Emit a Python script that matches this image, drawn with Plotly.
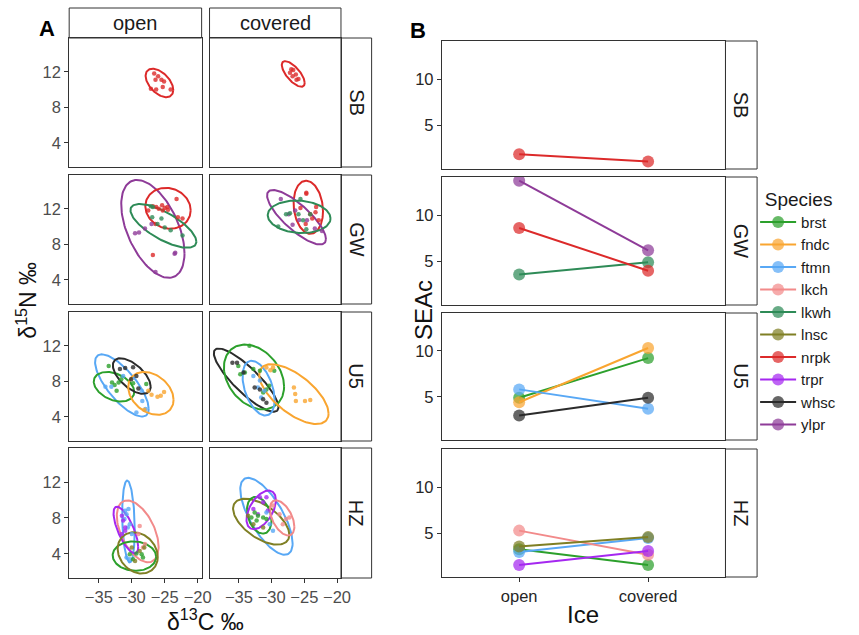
import numpy as np
import plotly.graph_objects as go

W, H = 859, 635

LOCS = ["SB", "GW", "U5", "HZ"]
ICE = ["open", "covered"]
SPECIES = ["brst", "fndc", "ftmn", "lkch", "lkwh", "lnsc", "nrpk", "trpr", "whsc", "ylpr"]
COLORS = {
    "brst": "#2ca02c", "fndc": "#F9A530", "ftmn": "#58A8F5", "lkch": "#F28A8A",
    "lkwh": "#2E8B57", "lnsc": "#7F7F24", "nrpk": "#DC2A2A", "trpr": "#A528F0",
    "whsc": "#2b2b2b", "ylpr": "#8E3B98",
}
A_XTICKS = [-35, -30, -25, -20]
A_YTICKS = [4, 8, 12]
B_YTICKS = [5, 10]

# Panel A: standard ellipses (location, ice, species, centre x, centre y, half-width x, half-height y, correlation)
ELLIPSES = [
    ("SB", "open", "nrpk", -25.8, 10.75, 2.1, 1.6, -0.5),
    ("SB", "covered", "nrpk", -26.7, 11.76, 1.75, 1.44, -0.7),
    ("GW", "open", "ylpr", -26.8, 9.74, 4.8, 5.5, -0.5),
    ("GW", "open", "nrpk", -24.5, 12.06, 3.44, 2.3, -0.1),
    ("GW", "open", "lkwh", -25.2, 10.08, 5.0, 2.46, -0.72),
    ("GW", "covered", "nrpk", -24.4, 12.17, 2.25, 2.99, -0.15),
    ("GW", "covered", "ylpr", -26.2, 11.05, 4.5, 3.06, -0.8),
    ("GW", "covered", "lkwh", -25.8, 11.1, 4.8, 1.83, -0.1),
    ("U5", "open", "ftmn", -31.5, 7.54, 4.07, 3.5, -0.75),
    ("U5", "open", "brst", -32.7, 7.4, 3.07, 1.66, -0.35),
    ("U5", "open", "whsc", -30.0, 8.6, 2.87, 2.0, -0.6),
    ("U5", "open", "fndc", -27.1, 6.65, 3.44, 2.41, -0.3),
    ("U5", "covered", "whsc", -33.9, 8.14, 4.94, 3.56, -0.85),
    ("U5", "covered", "brst", -32.7, 8.5, 4.6, 3.64, -0.3),
    ("U5", "covered", "ftmn", -32.0, 7.24, 2.45, 3.08, -0.43),
    ("U5", "covered", "fndc", -26.6, 6.57, 5.3, 3.36, -0.65),
    ("HZ", "open", "ftmn", -30.5, 7.6, 0.95, 4.57, -0.2),
    ("HZ", "open", "lkch", -29.1, 6.5, 3.17, 3.45, -0.5),
    ("HZ", "open", "trpr", -30.9, 6.65, 1.87, 2.61, -0.72),
    ("HZ", "open", "brst", -29.6, 3.74, 3.3, 1.64, -0.05),
    ("HZ", "open", "lnsc", -29.1, 4.1, 3.04, 2.3, -0.2),
    ("HZ", "covered", "ftmn", -30.8, 8.18, 4.0, 4.29, -0.7),
    ("HZ", "covered", "lnsc", -31.6, 7.58, 4.3, 2.56, -0.57),
    ("HZ", "covered", "brst", -31.9, 8.3, 1.87, 2.05, -0.3),
    ("HZ", "covered", "trpr", -31.6, 8.9, 2.25, 2.15, 0.5),
    ("HZ", "covered", "lkch", -28.4, 8.0, 1.87, 1.96, -0.5),
]

# Panel A: individual isotope values (d13C list, d15N list)
POINTS = {
    ("SB", "open", "nrpk"): ([-26.6, -26.0, -25.5, -25.1, -26.4, -25.3, -26.3, -24.1, -27.1],
                             [11.8, 11.5, 11.1, 10.9, 11.1, 10.3, 10.0, 10.0, 10.1]),
    ("SB", "covered", "nrpk"): ([-27.0, -26.7, -26.3, -25.9, -27.2, -26.8, -26.2],
                                [12.3, 12.2, 11.7, 11.2, 11.9, 11.5, 11.1]),
    ("GW", "open", "nrpk"): ([-26.8, -26.3, -25.4, -25.0, -24.6, -24.5, -23.2, -23.0, -22.3, -27.5, -26.4, -26.8, -25.3, -25.9],
                             [12.3, 12.2, 12.4, 12.1, 12.2, 11.9, 13.1, 11.05, 10.9, 11.8, 10.3, 6.8, 11.8, 12.0]),
    ("GW", "open", "ylpr"): ([-29.5, -28.9, -28.0, -26.4, -23.5, -23.4, -27.0],
                             [9.26, 9.33, 9.8, 4.9, 6.94, 7.06, 10.3]),
    ("GW", "open", "lkwh"): ([-27.1, -26.9, -25.5, -26.1, -25.0, -24.1, -22.3, -26.8],
                             [12.3, 11.05, 10.9, 10.3, 9.9, 9.6, 9.0, 12.2]),
    ("GW", "covered", "nrpk"): ([-24.7, -24.7, -23.2, -23.3, -24.1, -23.8, -25.6, -24.8, -22.8],
                                [13.8, 13.7, 12.2, 11.6, 11.4, 10.9, 12.1, 10.3, 10.7]),
    ("GW", "covered", "ylpr"): ([-28.6, -26.4, -26.8, -25.8, -24.6, -22.3, -23.4, -27.4],
                                [13.1, 11.8, 10.2, 10.75, 10.7, 9.5, 9.8, 11.4]),
    ("GW", "covered", "lkwh"): ([-29.0, -27.8, -27.2, -25.9, -25.6, -25.2, -24.7, -24.1],
                                [10.0, 11.4, 11.5, 11.4, 13.1, 10.7, 9.7, 11.4]),
    ("U5", "open", "brst"): ([-33.5, -33.0, -32.0, -32.3, -32.6, -31.6, -29.8, -27.8],
                             [9.74, 7.88, 7.88, 6.94, 7.6, 8.25, 7.8, 7.7]),
    ("U5", "open", "ftmn"): ([-34.0, -31.3, -28.5, -28.4, -29.3, -27.9, -33.1],
                             [7.4, 8.6, 6.94, 5.8, 4.5, 4.9, 7.4]),
    ("U5", "open", "whsc"): ([-31.8, -31.0, -29.8, -29.3, -29.0, -30.1],
                             [9.4, 9.5, 9.6, 8.6, 7.2, 8.25]),
    ("U5", "open", "fndc"): ([-27.5, -26.1, -25.6, -25.1, -27.0, -28.1],
                             [6.94, 6.27, 6.4, 6.8, 6.5, 4.8]),
    ("U5", "covered", "brst"): ([-33.4, -35.1, -34.1, -32.8, -31.8, -30.8, -30.4, -31.3, -34.8, -29.6],
                                [12.0, 9.74, 9.0, 9.4, 9.2, 7.1, 7.5, 6.76, 8.8, 9.2]),
    ("U5", "covered", "ftmn"): ([-32.8, -31.8, -31.6, -31.1, -32.1],
                                [8.6, 8.1, 6.2, 6.94, 7.3]),
    ("U5", "covered", "whsc"): ([-36.0, -35.3, -34.3, -32.6, -31.8, -31.3, -30.8],
                                [10.1, 10.1, 9.0, 7.3, 7.1, 6.0, 5.6]),
    ("U5", "covered", "fndc"): ([-30.8, -29.8, -30.2, -26.6, -26.4, -26.3, -24.9, -24.1],
                                [9.56, 9.56, 9.26, 7.3, 6.57, 5.8, 5.8, 5.9]),
    ("HZ", "open", "ftmn"): ([-31.0, -30.8, -30.5, -30.3, -30.6, -30.0, -30.8, -30.3, -31.1],
                             [8.8, 8.4, 9.0, 7.3, 6.94, 6.2, 3.6, 3.4, 7.88]),
    ("HZ", "open", "trpr"): ([-31.5, -31.3, -31.0, -31.5, -31.0],
                             [8.25, 7.7, 6.94, 6.2, 6.57]),
    ("HZ", "open", "lkch"): ([-28.8, -29.0, -28.0, -28.3],
                             [7.1, 6.2, 5.08, 4.7]),
    ("HZ", "open", "brst"): ([-30.3, -29.3, -28.5, -28.3, -29.8],
                             [3.96, 4.03, 3.96, 3.6, 3.4]),
    ("HZ", "open", "lnsc"): ([-30.0, -28.1, -28.8, -29.5],
                             [4.7, 4.7, 4.3, 3.2]),
    ("HZ", "covered", "trpr"): ([-31.8, -30.8, -31.3, -32.1, -32.8, -30.6],
                                [10.3, 10.3, 9.74, 8.4, 9.0, 8.8]),
    ("HZ", "covered", "brst"): ([-32.6, -32.1, -31.3, -30.8, -32.3, -33.1],
                                [8.6, 8.25, 8.06, 7.88, 7.7, 8.06]),
    ("HZ", "covered", "lkch"): ([-29.8, -28.8, -27.8, -27.3, -28.3],
                                [9.4, 8.4, 7.88, 8.06, 7.3]),
    ("HZ", "covered", "lnsc"): ([-33.6, -32.8, -31.3],
                                [8.25, 7.3, 6.94]),
    ("HZ", "covered", "ftmn"): ([-30.8, -30.3, -29.8],
                                [8.6, 7.3, 6.57]),
}

# Panel B: SEAc values [open, covered]
SEAC = {
    "SB": {"nrpk": [1.9, 1.1]},
    "GW": {"lkwh": [3.6, 4.9], "nrpk": [8.6, 4.0], "ylpr": [13.7, 6.2]},
    "U5": {"brst": [4.9, 9.2], "fndc": [4.4, 10.3], "ftmn": [5.8, 3.7], "whsc": [2.95, 4.9]},
    "HZ": {"brst": [3.3, 1.6], "ftmn": [3.0, 4.5], "lkch": [5.3, 2.7], "lnsc": [3.6, 4.6], "trpr": [1.6, 3.1]},
}

# ---------------- layout geometry (pixels) ----------------
A_COLS = [(70, 204), (212, 345)]
A_ROWS = [(38, 167), (175, 304), (312, 441), (448, 578)]
A_TOPSTRIP = (8, 38)
A_RSTRIP = (345, 376)
B_COL = (447, 734)
B_ROWS = [(41, 169), (177, 305), (313, 440), (449, 577)]
B_RSTRIP = (734, 766)


def fx(px):
    return px / W


def fy(py):
    return 1 - py / H


FONT = "Liberation Sans, Arial, sans-serif"
A_TICKFONT = dict(family=FONT, size=16.5, color="#4d4d4d")
B_TICKFONT = dict(family=FONT, size=16.5, color="#262626")
BORDER = "#333333"

fig = go.Figure()
layout = {}
ax_id = 0


def new_axes(xdom, ydom, xrange, yrange, show_x, show_y, xtickvals, ytickvals, tickfont, xticktext=None):
    global ax_id
    ax_id += 1
    sfx = "" if ax_id == 1 else str(ax_id)
    common = dict(showline=True, mirror=True, linecolor=BORDER, linewidth=1, showgrid=False,
                  zeroline=False, ticklen=4, tickcolor="#333333",
                  tickfont=tickfont, fixedrange=True)
    xa = dict(common, domain=[fx(xdom[0]), fx(xdom[1])], range=xrange, anchor="y" + sfx,
              tickvals=xtickvals, showticklabels=show_x, ticks="outside" if show_x else "")
    if xticktext is not None:
        xa["ticktext"] = xticktext
    ya = dict(common, domain=[fy(ydom[1]), fy(ydom[0])], range=yrange, anchor="x" + sfx,
              tickvals=ytickvals, showticklabels=show_y, ticks="outside" if show_y else "")
    layout["xaxis" + sfx] = xa
    layout["yaxis" + sfx] = ya
    return "x" + sfx, "y" + sfx


# ---------------- Panel A ----------------
A_XR = [-39.5, -19.4]
A_YR = [1.3, 15.8]
t = np.linspace(0, 2 * np.pi, 120)
for ri, loc in enumerate(LOCS):
    for ci, ice in enumerate(ICE):
        xr, yr = new_axes(A_COLS[ci], A_ROWS[ri], A_XR, A_YR, ri == 3, ci == 0, A_XTICKS, A_YTICKS, A_TICKFONT)
        for (l, ic, sp, cx, cy, sx, sy, r) in ELLIPSES:
            if l == loc and ic == ice:
                ex = cx + sx * np.cos(t)
                ey = cy + sy * (r * np.cos(t) + np.sqrt(1 - r * r) * np.sin(t))
                fig.add_trace(go.Scatter(x=ex, y=ey, mode="lines", line=dict(color=COLORS[sp], width=2),
                                         xaxis=xr, yaxis=yr, showlegend=False, hoverinfo="skip"))
        for (l, ic, sp), (px, py) in POINTS.items():
            if l == loc and ic == ice:
                fig.add_trace(go.Scatter(x=px, y=py, mode="markers",
                                         marker=dict(color=COLORS[sp], size=4.5, opacity=0.8),
                                         xaxis=xr, yaxis=yr, showlegend=False))

# ---------------- Panel B ----------------
B_XR = [0.4, 2.6]
B_YR = [0.3, 14.1]
seen = set()
for ri, loc in enumerate(LOCS):
    xr, yr = new_axes(B_COL, B_ROWS[ri], B_XR, B_YR, ri == 3, True, [1, 2], B_YTICKS, B_TICKFONT, ICE)
    for sp, vals in SEAC[loc].items():
        show = sp not in seen
        seen.add(sp)
        fig.add_trace(go.Scatter(x=[1, 2], y=vals, mode="lines+markers",
                                 line=dict(color=COLORS[sp], width=2),
                                 marker=dict(color=COLORS[sp], size=12, opacity=0.72),
                                 name=sp, legendgroup=sp, legendrank=SPECIES.index(sp) + 1,
                                 showlegend=show, xaxis=xr, yaxis=yr))

# ---------------- strips, labels ----------------
shapes = []
annotations = []
STRIP_FONT = dict(family=FONT, size=20, color="#1a1a1a")


def rect(x0, y0, x1, y1):
    shapes.append(dict(type="rect", xref="paper", yref="paper", x0=fx(x0), x1=fx(x1), y0=fy(y1), y1=fy(y0),
                       line=dict(color=BORDER, width=1), fillcolor="white", layer="below"))


def label(text, px, py, font, angle=0):
    annotations.append(dict(text=text, x=fx(px), y=fy(py), xref="paper", yref="paper",
                            xanchor="center", yanchor="middle", showarrow=False,
                            textangle=angle, font=font))


for ci, ice in enumerate(ICE):
    x0, x1 = A_COLS[ci]
    rect(x0, A_TOPSTRIP[0], x1, A_TOPSTRIP[1])
    label(ice, (x0 + x1) / 2, sum(A_TOPSTRIP) / 2, STRIP_FONT)
for ri, loc in enumerate(LOCS):
    y0, y1 = A_ROWS[ri]
    rect(A_RSTRIP[0], y0, A_RSTRIP[1], y1)
    label(loc, sum(A_RSTRIP) / 2, (y0 + y1) / 2, STRIP_FONT, 90)
    y0, y1 = B_ROWS[ri]
    rect(B_RSTRIP[0], y0, B_RSTRIP[1], y1)
    label(loc, sum(B_RSTRIP) / 2, (y0 + y1) / 2, STRIP_FONT, 90)

TITLE_FONT = dict(family=FONT, size=23, color="#111111")
PANEL_FONT = dict(family=FONT, size=22, color="black")
label("<b>A</b>", 48, 28, PANEL_FONT)
label("<b>B</b>", 423, 31, PANEL_FONT)
label("δ<sup>15</sup>N ‰", 27, 300, TITLE_FONT, -90)
label("δ<sup>13</sup>C ‰", 208, 620, TITLE_FONT)
label("SEAc", 428, 310, dict(TITLE_FONT, size=24), -90)
label("Ice", 590, 614, dict(TITLE_FONT, size=24))

fig.update_layout(
    **layout,
    width=W, height=H,
    margin=dict(l=0, r=0, t=0, b=0),
    plot_bgcolor="white", paper_bgcolor="white",
    shapes=shapes, annotations=annotations,
    font=dict(family=FONT),
    legend=dict(x=fx(764), y=fy(181), xanchor="left", yanchor="top",
                title=dict(text="Species", side="top center",
                           font=dict(family=FONT, size=19, color="#1a1a1a")),
                font=dict(family=FONT, size=15, color="#1a1a1a"),
                traceorder="normal", bgcolor="rgba(0,0,0,0)", itemwidth=36),
)

fig.write_html("out.html")
